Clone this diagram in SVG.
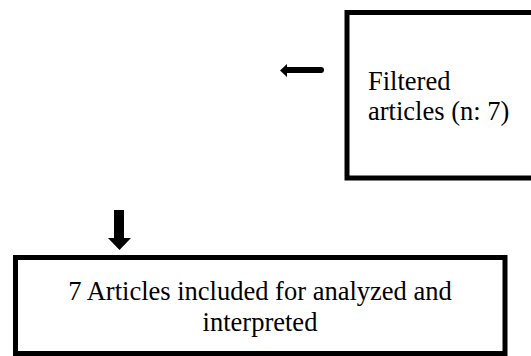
<svg xmlns="http://www.w3.org/2000/svg" width="531" height="356" viewBox="0 0 531 356">
<style>
.box{fill:#fff;stroke:#000;stroke-width:5}
.t{font-size:26.5px;fill:#000}
.arr{fill:#000}
</style>
<rect width="531" height="356" fill="#fff"/>
<g id="filtered">
<rect class="box" x="347" y="12.5" width="200" height="165.5"/>
<text class="t" font-family="Liberation Serif, Times New Roman, Tinos, DejaVu Serif, serif" x="368" y="90">Filtered</text>
<text class="t" font-family="Liberation Serif, Times New Roman, Tinos, DejaVu Serif, serif" x="368" y="120">articles (n: 7)</text>
</g>
<g id="included">
<rect class="box" x="15.5" y="257.5" width="489.5" height="96"/>
<text class="t" font-family="Liberation Serif, Times New Roman, Tinos, DejaVu Serif, serif" text-anchor="middle" x="260" y="300">7 Articles included for analyzed and</text>
<text class="t" font-family="Liberation Serif, Times New Roman, Tinos, DejaVu Serif, serif" text-anchor="middle" x="260" y="331">interpreted</text>
</g>
<g id="connectors">
<path class="arr" d="M280,70.5 L287,64 L287,67 L321,67 Q324,67 324,70 Q324,73 321,73 L287,73 L287,77 Z"/>
<path class="arr" d="M114,210 L124,210 L124,238 L131,238 L119.5,250 L108,238 L114,238 Z"/>
</g>
</svg>
